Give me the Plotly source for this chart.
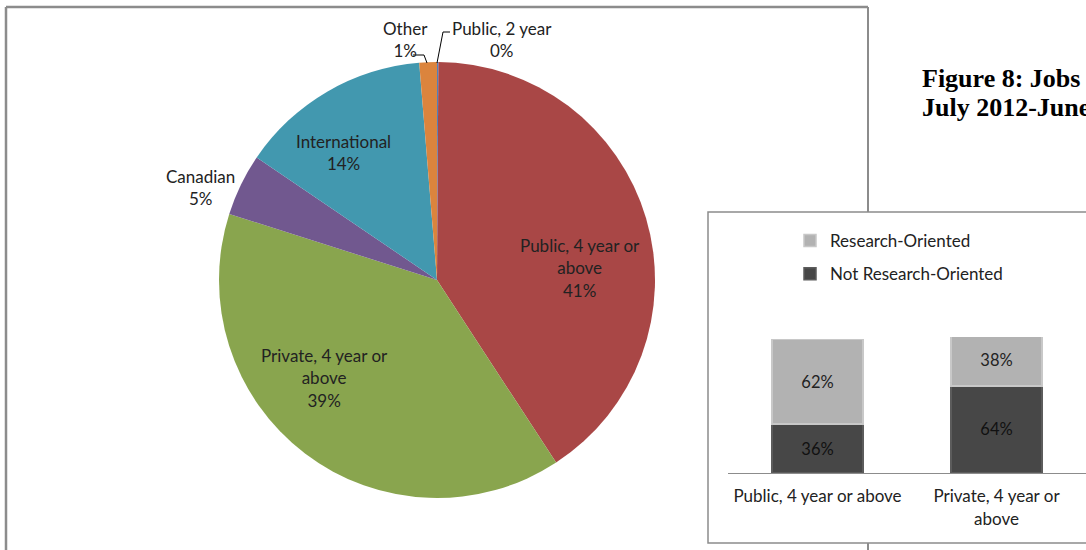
import plotly.graph_objects as go

# ---------------- data ----------------
pie_labels = ["Public, 2 year", "Public, 4 year or above", "Private, 4 year or above",
              "Canadian", "International", "Other"]
pie_values = [0.1, 40.7, 39.1, 4.6, 14.2, 1.3]
pie_colors = ["#4F81BD", "#A94746", "#89A54E", "#71588F", "#4298AF", "#DB843D"]

bar_categories = ["Public, 4 year or above", "Private, 4 year or above"]
not_research = [36, 64]
research = [62, 38]

title_lines = ["Figure 8: Jobs", "July 2012-June"]

# ---------------- helpers ----------------
W, H = 1086, 550
FONT = "Lato"
TXT = "#222222"


def px(x):
    return x / W


def py(y):
    return 1 - y / H


def spaced(lines, size=17):
    return "<br>".join(f"<span style='font-size:{size}px'>{l}</span>" for l in lines)


# wrapping / placement of pie labels (style only)
label_wrap = {
    "Public, 4 year or above": ["Public, 4 year or", "above"],
    "Private, 4 year or above": ["Private, 4 year or", "above"],
}
tick_wrap = {
    "Private, 4 year or above": ["Private, 4 year or", "above"],
}
label_pos = {
    "Public, 2 year": (502, 39),
    "Public, 4 year or above": (580, 268),
    "Private, 4 year or above": (324, 378),
    "Canadian": (200, 187),
    "International": (343, 152),
    "Other": (405, 39),
}

total = sum(pie_values)
annotations = []
for lab, val in zip(pie_labels, pie_values):
    pct = f"{round(val / total * 100):d}%"
    lines = label_wrap.get(lab, [lab]) + [pct]
    x, y = label_pos[lab]
    annotations.append(dict(
        x=px(x), y=py(y), xref="paper", yref="paper", showarrow=False,
        text=spaced(lines), font=dict(family=FONT, size=17.3, color=TXT),
        xanchor="center", yanchor="middle", align="center"))

for i, t in enumerate(title_lines):
    annotations.append(dict(
        x=px(920), y=py(78 + 29 * i), xref="paper", yref="paper", showarrow=False,
        text=f"<b>{t}</b>", font=dict(family="Liberation Serif", size=26, color="#000000"),
        xanchor="left", yanchor="middle"))

fig = go.Figure()

fig.add_trace(go.Pie(
    labels=pie_labels, values=pie_values, sort=False, direction="clockwise", rotation=0,
    marker=dict(colors=pie_colors, line=dict(width=0)), textinfo="none",
    domain=dict(x=[px(219), px(655)], y=[py(498), py(62)]), showlegend=False,
    hoverinfo="label+percent"))

fig.add_trace(go.Bar(
    x=bar_categories, y=not_research, name="Not Research-Oriented",
    text=[f"{v}%" for v in not_research], textposition="inside", insidetextanchor="middle",
    textfont=dict(family=FONT, size=16.5, color="#111111"),
    marker=dict(color="#474747", line=dict(color="#5c5c5c", width=1.5)),
    width=0.51, legendgroup="a", legendrank=2, xaxis="x", yaxis="y"))
fig.add_trace(go.Bar(
    x=bar_categories, y=research, name="Research-Oriented",
    text=[f"{v}%" for v in research], textposition="inside", insidetextanchor="middle",
    textfont=dict(family=FONT, size=16.5, color=TXT),
    marker=dict(color="#B2B2B2", line=dict(color="#c8c8c8", width=1.5)),
    width=0.51, legendgroup="b", legendrank=1, xaxis="x", yaxis="y"))

frame_col = "#8c8c8c"
shapes = [
    # pie chart frame
    dict(type="line", xref="paper", yref="paper", x0=px(6), x1=px(6), y0=py(7), y1=py(560),
         line=dict(color=frame_col, width=2.5), layer="below"),
    dict(type="line", xref="paper", yref="paper", x0=px(6), x1=px(868), y0=py(7), y1=py(7),
         line=dict(color=frame_col, width=2.5), layer="below"),
    dict(type="line", xref="paper", yref="paper", x0=px(868), x1=px(868), y0=py(7), y1=py(560),
         line=dict(color=frame_col, width=2), layer="below"),
    # bar chart box
    dict(type="rect", xref="paper", yref="paper", x0=px(708), x1=px(1095), y0=py(543), y1=py(212),
         line=dict(color=frame_col, width=1.5), fillcolor="white", layer="below"),
    # leader lines
    dict(type="path", xref="paper", yref="paper",
         path=f"M{px(413)},{py(55)} L{px(424)},{py(55)} L{px(427)},{py(63)}",
         line=dict(color="#000000", width=1)),
    dict(type="path", xref="paper", yref="paper",
         path=f"M{px(450)},{py(32)} L{px(443)},{py(32)} L{px(437)},{py(63)}",
         line=dict(color="#000000", width=1)),
]

tick_text = [spaced(tick_wrap.get(c, [c])) for c in bar_categories]

fig.update_layout(
    width=W, height=H, margin=dict(l=0, r=0, t=0, b=0),
    paper_bgcolor="white", plot_bgcolor="rgba(0,0,0,0)",
    barmode="stack", bargap=0.49,
    font=dict(family=FONT, size=17, color=TXT),
    xaxis=dict(domain=[px(728), 1.0], range=[-0.5, 1.5], showline=True, linecolor="#8c8c8c",
               linewidth=1, showgrid=False, zeroline=False, tickmode="array",
               tickvals=bar_categories, ticktext=tick_text, ticks="",
               tickfont=dict(family=FONT, size=17.5, color=TXT), ticklabelstandoff=7,
               fixedrange=True),
    yaxis=dict(domain=[py(473), py(337)], range=[0, 100], visible=False, fixedrange=True),
    legend=dict(x=px(790), y=py(223), xanchor="left", yanchor="top",
                traceorder="grouped", tracegroupgap=8,
                bgcolor="rgba(0,0,0,0)", font=dict(family=FONT, size=17, color=TXT)),
    shapes=shapes, annotations=annotations,
)

fig.write_html("out.html", config={"displayModeBar": False},
               post_script="document.body.style.margin='0';document.body.style.overflow='hidden';")
